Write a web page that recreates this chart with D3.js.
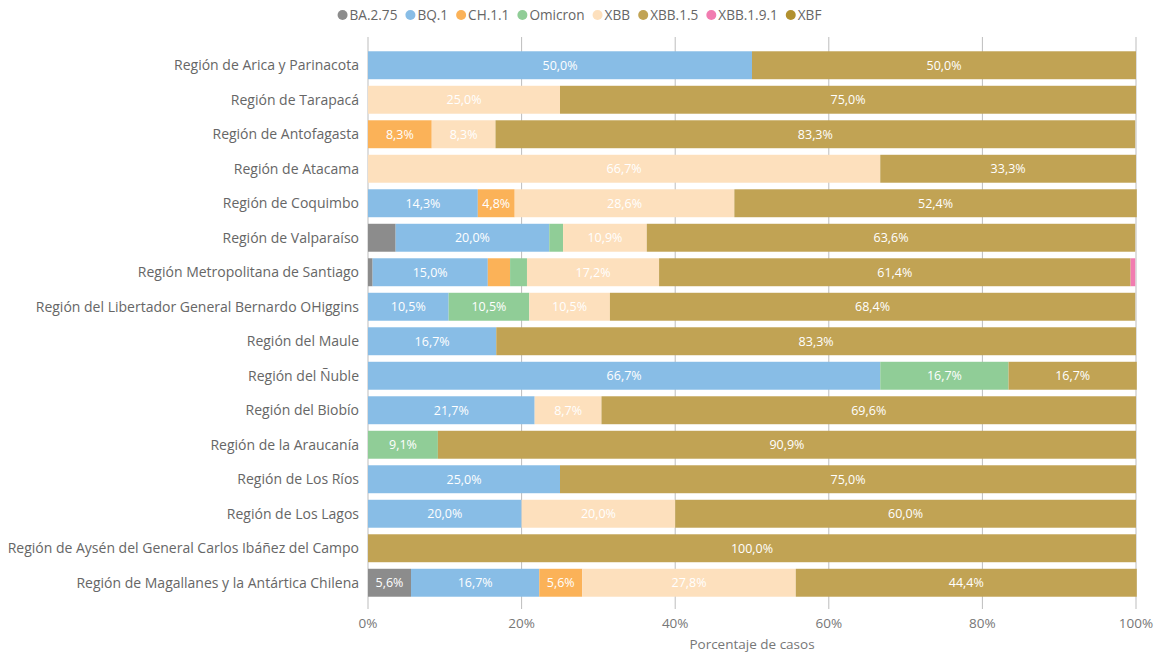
<!DOCTYPE html>
<html>
<head>
<meta charset="utf-8">
<script src="https://cdn.jsdelivr.net/npm/d3@7"></script>
<style>
  body { margin: 0; background: #fff; font-family: "Segoe UI", "Open Sans", "Noto Sans", sans-serif; }
  #chart { width: 1159px; height: 654px; }
</style>
</head>
<body>
<div id="chart"></div>
<script>
// Chart data
const regions = [
  'Región de Arica y Parinacota',
  'Región de Tarapacá',
  'Región de Antofagasta',
  'Región de Atacama',
  'Región de Coquimbo',
  'Región de Valparaíso',
  'Región Metropolitana de Santiago',
  'Región del Libertador General Bernardo OHiggins',
  'Región del Maule',
  'Región del Ñuble',
  'Región del Biobío',
  'Región de la Araucanía',
  'Región de Los Ríos',
  'Región de Los Lagos',
  'Región de Aysén del General Carlos Ibáñez del Campo',
  'Región de Magallanes y la Antártica Chilena'
];

const variants = ['BA.2.75', 'BQ.1', 'CH.1.1', 'Omicron', 'XBB', 'XBB.1.5', 'XBB.1.9.1', 'XBF'];
const colors = ['#8c8c8c', '#88bde6', '#fbb258', '#90cd97', '#fde0bd', '#c1a354', '#f17cb0', '#b2912f'];

// percentages per variant, one value per region (same order as regions)
const ba275   = [0, 0, 0, 0, 0, 3.6, 0.6, 0, 0, 0, 0, 0, 0, 0, 0, 5.6];
const bq1     = [50.0, 0, 0, 0, 14.3, 20.0, 15.0, 10.5, 16.7, 66.7, 21.7, 0, 25.0, 20.0, 0, 16.7];
const ch11    = [0, 0, 8.3, 0, 4.8, 0, 2.9, 0, 0, 0, 0, 0, 0, 0, 0, 5.6];
const omicron = [0, 0, 0, 0, 0, 1.8, 2.2, 10.5, 0, 16.7, 0, 9.1, 0, 0, 0, 0];
const xbb     = [0, 25.0, 8.3, 66.7, 28.6, 10.9, 17.2, 10.5, 0, 0, 8.7, 0, 0, 20.0, 0, 27.8];
const xbb15   = [50.0, 75.0, 83.3, 33.3, 52.4, 63.6, 61.4, 68.4, 83.3, 16.7, 69.6, 90.9, 75.0, 60.0, 100.0, 44.4];
const xbb191  = [0, 0, 0, 0, 0, 0, 0.6, 0, 0, 0, 0, 0, 0, 0, 0, 0];
const xbf     = [0, 0, 0, 0, 0, 0, 0, 0, 0, 0, 0, 0, 0, 0, 0, 0];

const xTicks = [0, 20, 40, 60, 80, 100];

(function() {
  const seriesValues = [ba275, bq1, ch11, omicron, xbb, xbb15, xbb191, xbf];
  const W = 1159, H = 654;
  const margin = {left: 368, right: 23, top: 48, bottom: 54};
  const innerW = W - margin.left - margin.right;
  const innerH = H - margin.top - margin.bottom;

  const rows = regions.map((r, i) => {
    const o = {region: r};
    variants.forEach((v, j) => { o[v] = seriesValues[j][i]; });
    return o;
  });

  const stacked = d3.stack().keys(variants)(rows);

  const svg = d3.select('#chart').append('svg')
    .attr('width', W).attr('height', H);

  const g = svg.append('g')
    .attr('transform', `translate(${margin.left},${margin.top})`);

  const x = d3.scaleLinear().domain([0, 100]).range([0, innerW]);
  const y = d3.scaleBand().domain(regions).range([0, innerH]).paddingInner(0.19).paddingOuter(0.095);
  const color = d3.scaleOrdinal().domain(variants).range(colors);

  // Grid lines
  g.append('g')
    .selectAll('line')
    .data(xTicks)
    .enter().append('line')
    .attr('x1', d => x(d)).attr('x2', d => x(d))
    .attr('y1', -11).attr('y2', innerH + 9)
    .attr('stroke', '#bdbdbd')
    .attr('stroke-width', 1);

  // Bars
  const layer = g.selectAll('.layer')
    .data(stacked)
    .enter().append('g')
    .attr('class', 'layer')
    .attr('fill', d => color(d.key));

  layer.selectAll('rect')
    .data(d => d.filter(s => s[1] - s[0] > 0))
    .enter().append('rect')
    .attr('x', d => x(d[0]))
    .attr('y', d => y(d.data.region))
    .attr('width', d => x(d[1]) - x(d[0]))
    .attr('height', y.bandwidth());

  // Segment labels
  const fmt = v => v.toFixed(1).replace('.', ',') + '%';
  layer.selectAll('text')
    .data(d => d.filter(s => s[1] - s[0] >= 4))
    .enter().append('text')
    .attr('x', d => (x(d[0]) + x(d[1])) / 2)
    .attr('y', d => y(d.data.region) + y.bandwidth() / 2)
    .attr('dy', '0.35em')
    .attr('text-anchor', 'middle')
    .attr('fill', '#fff')
    .style('font-size', '12.5px')
    .text(d => fmt(d[1] - d[0]));

  // Y axis labels
  g.append('g')
    .selectAll('text')
    .data(regions)
    .enter().append('text')
    .attr('x', -9)
    .attr('y', d => y(d) + y.bandwidth() / 2)
    .attr('dy', '0.35em')
    .attr('text-anchor', 'end')
    .attr('fill', '#666')
    .style('font-size', '14px')
    .text(d => d);

  // X axis tick labels
  g.append('g')
    .selectAll('text')
    .data(xTicks)
    .enter().append('text')
    .attr('x', d => x(d))
    .attr('y', innerH + 28)
    .attr('text-anchor', 'middle')
    .attr('fill', '#777')
    .style('font-size', '13.5px')
    .text(d => d + '%');

  svg.append('text')
    .attr('x', margin.left + innerW / 2)
    .attr('y', H - 5)
    .attr('text-anchor', 'middle')
    .attr('fill', '#777')
    .style('font-size', '13.5px')
    .text('Porcentaje de casos');

  // Legend
  const legend = svg.append('g').attr('transform', 'translate(0,15)');
  let lx = 0;
  const items = legend.selectAll('g')
    .data(variants)
    .enter().append('g');
  items.append('circle')
    .attr('r', 5)
    .attr('cy', 0)
    .attr('fill', d => color(d));
  items.append('text')
    .attr('x', 7)
    .attr('dy', '0.35em')
    .attr('fill', '#666')
    .style('font-size', '13.6px')
    .text(d => d);
  items.each(function() {
    const bw = this.getBBox().width;
    d3.select(this).attr('transform', `translate(${lx + 5},0)`);
    lx += bw + 8;
  });
  legend.attr('transform', `translate(${(W - lx) / 2 + 4},15)`);
})();
</script>
</body>
</html>
